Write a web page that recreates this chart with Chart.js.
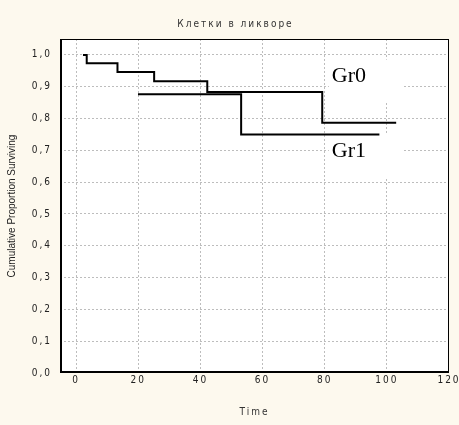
<!DOCTYPE html>
<html>
<head>
<meta charset="utf-8">
<script src="https://cdn.jsdelivr.net/npm/chart.js@4"></script>
<style>
  html, body { margin: 0; padding: 0; background: #fdf9ee; }
  canvas { display: block; }
</style>
</head>
<body>
<canvas id="kmChart" width="459" height="425"></canvas>
<script>
// Data
const TITLE = 'Клетки в ликворе';
const X_TITLE = 'Time';
const Y_TITLE = 'Cumulative Proportion Surviving';

const GR0_TIME = [2.2, 3.4, 13.3, 25.1, 42.2, 79.2, 103.0];
const GR0_SURV = [1.0, 0.974, 0.946, 0.917, 0.883, 0.787, 0.787];
const GR1_TIME = [19.9, 53.1, 97.6];
const GR1_SURV = [0.876, 0.75, 0.75];

const X_TICKS = [0, 20, 40, 60, 80, 100, 120];
const X_TICK_LABELS = ['0', '20', '40', '60', '80', '100', '120'];
const Y_TICKS = [0, 0.1, 0.2, 0.3, 0.4, 0.5, 0.6, 0.7, 0.8, 0.9, 1.0];
const Y_TICK_LABELS = ['0,0', '0,1', '0,2', '0,3', '0,4', '0,5', '0,6', '0,7', '0,8', '0,9', '1,0'];

// curve labels: name, time, surv (baseline left)
const CURVE_LABELS = ['Gr0', 'Gr1'];
const CURVE_LABEL_TIME = [82.3, 82.3];
const CURVE_LABEL_SURV = [0.916, 0.680];

const NARROW = '"Liberation Sans Narrow", "DejaVu Sans Condensed", "Arial Narrow", sans-serif';

function toPoints(xs, ys) {
    return xs.map((x, i) => ({ x: x, y: ys[i] }));
}

// Plugin: background, frame, labels, letter spacing
const decor = {
    id: 'decor',
    beforeDraw(chart) {
        const { ctx, chartArea: a } = chart;
        ctx.save();
        ctx.fillStyle = '#fdf9ee';
        ctx.fillRect(0, 0, chart.width, chart.height);
        ctx.fillStyle = '#ffffff';
        ctx.fillRect(a.left, a.top, a.right - a.left, a.bottom - a.top);
        ctx.restore();
        ctx.letterSpacing = '2px'; // spaced look of ticks and titles
    },
    beforeDatasetsDraw(chart) {
        const { ctx, chartArea: a, scales } = chart;
        ctx.save();
        ctx.letterSpacing = '0px';
        // label boxes hide the grid
        CURVE_LABELS.forEach((txt, i) => {
            const x = scales.x.getPixelForValue(CURVE_LABEL_TIME[i]);
            const y = scales.y.getPixelForValue(CURVE_LABEL_SURV[i]);
            ctx.fillStyle = '#ffffff';
            ctx.fillRect(x - 3, y - 22, 75, 43);
            ctx.fillStyle = '#000000';
            ctx.font = '22px "Liberation Serif", "Times New Roman", serif';
            ctx.textAlign = 'left';
            ctx.textBaseline = 'alphabetic';
            ctx.fillText(txt, x, y);
        });
        // frame
        ctx.strokeStyle = '#000000';
        ctx.lineWidth = 1;
        ctx.strokeRect(a.left + 0.5, a.top + 0.5, a.right - a.left - 1, a.bottom - a.top - 1);
        ctx.lineWidth = 2;
        ctx.beginPath();
        ctx.moveTo(a.left + 1, a.top);
        ctx.lineTo(a.left + 1, a.bottom - 1);
        ctx.lineTo(a.right, a.bottom - 1);
        ctx.stroke();
        ctx.restore();
    },
    afterDraw(chart) {
        const { ctx, chartArea: a } = chart;
        ctx.save();
        ctx.letterSpacing = '0px';
        ctx.translate(12, (a.top + a.bottom) / 2);
        ctx.rotate(-Math.PI / 2);
        ctx.fillStyle = '#222222';
        ctx.font = '10px "Liberation Sans", Arial, sans-serif';
        ctx.textAlign = 'center';
        ctx.textBaseline = 'middle';
        ctx.fillText(Y_TITLE, 0, 0);
        ctx.restore();
    }
};

const ctx = document.getElementById('kmChart').getContext('2d');
const kmChart = new Chart(ctx, {
    type: 'line',
    data: {
        datasets: [
            { label: 'Gr0', data: toPoints(GR0_TIME, GR0_SURV) },
            { label: 'Gr1', data: toPoints(GR1_TIME, GR1_SURV) }
        ]
    },
    options: {
        responsive: false,
        animation: false,
        devicePixelRatio: 1,
        layout: { padding: { left: 22, right: 10, top: 0, bottom: 0 } },
        elements: {
            line: { borderColor: '#000000', borderWidth: 2, stepped: 'before', fill: false, tension: 0 },
            point: { radius: 0, hoverRadius: 0 }
        },
        plugins: {
            legend: { display: false },
            tooltip: { enabled: false },
            title: {
                display: true,
                text: TITLE,
                color: '#333333',
                font: { family: NARROW, size: 10, weight: 'normal' },
                padding: { top: 18, bottom: 9 }
            }
        },
        scales: {
            x: {
                type: 'linear',
                min: -5.2,
                max: 120,
                afterBuildTicks: (s) => { s.ticks = X_TICKS.map(v => ({ value: v })); },
                afterFit: (s) => { s.height = 52; },
                ticks: {
                    color: '#222222',
                    padding: 1,
                    maxRotation: 0,
                    autoSkip: false,
                    font: { family: NARROW, size: 10 },
                    callback: (v, i) => X_TICK_LABELS[i]
                },
                grid: {
                    drawTicks: false,
                    lineWidth: 1,
                    color: (c) => (c.tick && c.tick.value === 120) ? 'rgba(0,0,0,0)' : '#bdbdbd'
                },
                border: { display: false, dash: [2, 2] },
                title: {
                    display: true,
                    text: X_TITLE,
                    color: '#333333',
                    font: { family: NARROW, size: 10 },
                    padding: { top: 0, bottom: 7 }
                }
            },
            y: {
                min: 0,
                max: 1.05,
                afterBuildTicks: (s) => { s.ticks = Y_TICKS.map(v => ({ value: v })); },
                afterFit: (s) => { s.width = 38; },
                ticks: {
                    color: '#222222',
                    padding: 8,
                    autoSkip: false,
                    font: { family: NARROW, size: 10 },
                    callback: (v, i) => Y_TICK_LABELS[i]
                },
                grid: {
                    drawTicks: false,
                    lineWidth: 1,
                    color: (c) => (c.tick && c.tick.value === 0) ? 'rgba(0,0,0,0)' : '#bdbdbd'
                },
                border: { display: false, dash: [2, 2] }
            }
        }
    },
    plugins: [decor]
});
</script>
</body>
</html>
